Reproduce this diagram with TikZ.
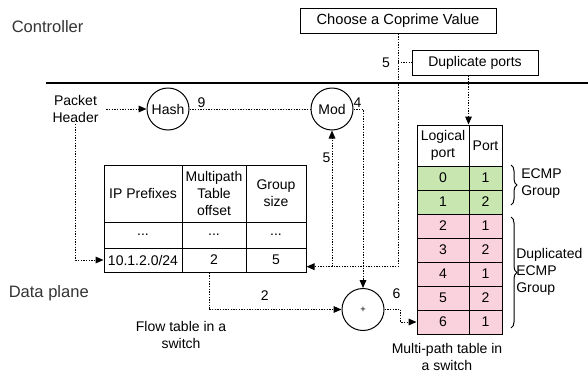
\documentclass[tikz,border=0pt]{standalone}
\usepackage{fontspec}
\setmainfont{Liberation Sans}
\usetikzlibrary{arrows.meta,decorations.pathreplacing}

\begin{document}
\begin{tikzpicture}[x=0.75pt,y=0.75pt,yscale=-1,xscale=1,
  txt/.style={inner sep=0.75pt,font=\fontsize{10.5}{12.75}\selectfont,align=center},
  cell/.style={draw,line width=0.75pt,inner sep=0pt,font=\fontsize{10.5}{12.75}\selectfont,align=center},
  bub/.style={draw,circle,line width=0.75pt,minimum size=31.5pt,inner sep=0pt,font=\fontsize{10.5}{12.75}\selectfont},
  dotline/.style={line width=0.75pt,dash pattern={on 1pt off 1pt}},
  tip/.style={-{Triangle[length=6pt,width=5pt]}},
  curly/.style={line width=0.75pt,decorate,decoration={brace,amplitude=4.5pt}}]
\useasboundingbox (0,0) rectangle (588,375);

% Planes
\draw (10.5,27) node [anchor=west][inner sep=0.75pt] [font=\fontsize{12.4}{15}\selectfont,color={rgb, 255:red, 51; green, 51; blue, 51 }] (ctl) {Controller};
\draw (7.5,293.5) node [anchor=west][inner sep=0.75pt] [font=\fontsize{12.4}{15}\selectfont,color={rgb, 255:red, 51; green, 51; blue, 51 }] (dpl) {Data plane};
\draw [line width=1.5pt] (46,83) -- (588,83) ;

% Controller boxes
\draw (398,20.8) node [draw,line width=0.75pt,minimum width=147pt,minimum height=18.75pt,inner sep=0pt] [font=\fontsize{11}{13}\selectfont] (choose) {Choose a Coprime Value};
\draw (475,62.5) node [draw,line width=0.75pt,minimum width=94.5pt,minimum height=18.75pt,inner sep=0pt] [font=\fontsize{10.5}{12.75}\selectfont] (dup) {Duplicate ports};

% Text Node
\draw (75.5,109) node [txt] (hdr) {Packet\\Header};
% Circles
\draw (168,109) node [bub] (hash) {Hash};
\draw (332,109) node [bub] (mod) {Mod};
\draw (363,309.5) node [bub,font=\fontsize{7}{8}\selectfont] (plus) {+};

% Flow table
\draw (143,193.5) node [cell,minimum width=58.5pt,minimum height=42.75pt] (iph) {IP Prefixes};
\draw (214,193.5) node [cell,minimum width=48pt,minimum height=42.75pt] (ofh) {Multipath\\Table\\offset};
\draw (276,193.5) node [cell,minimum width=45pt,minimum height=42.75pt] (gsh) {Group\\size};
\draw (143,235) node [cell,minimum width=58.5pt,minimum height=19.5pt] (ipd) {...};
\draw (214,235) node [cell,minimum width=48pt,minimum height=19.5pt] (ofd) {...};
\draw (276,235) node [cell,minimum width=45pt,minimum height=19.5pt] (gsd) {...};
\draw (143,260) node [cell,minimum width=58.5pt,minimum height=18pt] (ipv) {10.1.2.0/24};
\draw (214,260) node [cell,minimum width=48pt,minimum height=18pt] (ofv) {2};
\draw (276,260) node [cell,minimum width=45pt,minimum height=18pt] (gsv) {5};
\draw (181,335) node [txt] (flowcap) {Flow table in a\\switch};

% Multi-path table
\draw (443,145.5) node [cell,minimum width=39pt,minimum height=30.75pt] (hlp) {Logical\\port};
\draw (485.5,145.5) node [cell,minimum width=24.75pt,minimum height=30.75pt] (hpt) {Port};
\draw (443,178) node [cell,minimum width=39pt,minimum height=18pt,fill={rgb, 255:red, 199; green, 230; blue, 176 }] (r0l) {0};
\draw (485.5,178) node [cell,minimum width=24.75pt,minimum height=18pt,fill={rgb, 255:red, 199; green, 230; blue, 176 }] (r0p) {1};
\draw (443,202) node [cell,minimum width=39pt,minimum height=18pt,fill={rgb, 255:red, 199; green, 230; blue, 176 }] (r1l) {1};
\draw (485.5,202) node [cell,minimum width=24.75pt,minimum height=18pt,fill={rgb, 255:red, 199; green, 230; blue, 176 }] (r1p) {2};
\draw (443,226) node [cell,minimum width=39pt,minimum height=18pt,fill={rgb, 255:red, 250; green, 210; blue, 222 }] (r2l) {2};
\draw (485.5,226) node [cell,minimum width=24.75pt,minimum height=18pt,fill={rgb, 255:red, 250; green, 210; blue, 222 }] (r2p) {1};
\draw (443,250) node [cell,minimum width=39pt,minimum height=18pt,fill={rgb, 255:red, 250; green, 210; blue, 222 }] (r3l) {3};
\draw (485.5,250) node [cell,minimum width=24.75pt,minimum height=18pt,fill={rgb, 255:red, 250; green, 210; blue, 222 }] (r3p) {2};
\draw (443,274) node [cell,minimum width=39pt,minimum height=18pt,fill={rgb, 255:red, 250; green, 210; blue, 222 }] (r4l) {4};
\draw (485.5,274) node [cell,minimum width=24.75pt,minimum height=18pt,fill={rgb, 255:red, 250; green, 210; blue, 222 }] (r4p) {1};
\draw (443,298) node [cell,minimum width=39pt,minimum height=18pt,fill={rgb, 255:red, 250; green, 210; blue, 222 }] (r5l) {5};
\draw (485.5,298) node [cell,minimum width=24.75pt,minimum height=18pt,fill={rgb, 255:red, 250; green, 210; blue, 222 }] (r5p) {2};
\draw (443,322) node [cell,minimum width=39pt,minimum height=18pt,fill={rgb, 255:red, 250; green, 210; blue, 222 }] (r6l) {6};
\draw (485.5,322) node [cell,minimum width=24.75pt,minimum height=18pt,fill={rgb, 255:red, 250; green, 210; blue, 222 }] (r6p) {1};
\draw (447,356.5) node [txt] (mpcap) {Multi-path table in\\a switch};

% Braces
\draw [curly] (511,165) -- (511,205) ;
\draw (520,183.5) node [txt,anchor=west,align=left] (ecmp) {ECMP\\Group};
\draw [curly] (511,217) -- (511,328) ;
\draw (515,272) node [txt,anchor=west,align=left] (decmp) {Duplicated\\ECMP\\Group};

% Connectors
\coordinate (gin) at ([yshift=5pt]gsv.east);
\draw [dotline,tip] (hdr.east) [shorten <=5pt] -- (hash.west) ;
\draw [dotline,tip] (hdr.south) |- (ipv.west) ;
\draw [dotline] (hash.east) -- node [pos=0.1,above,txt] {9} (mod.west) ;
\draw [dotline,tip] (mod.east) -| node [pos=0.5,anchor=south east,txt] {4} (plus.north) ;
\draw [dotline,tip] (choose.south) |- (gin) ;
\draw [dotline,tip] (mod.south |- gin) -- node [pos=0.8,left,txt] {5} (mod.south) ;
\draw [dotline] (choose.south |- dup.west) node [left,xshift=-5pt,txt] {5} -- (dup.west) ;
\draw [dotline,tip] (dup.south -| hpt.north west) -- (hpt.north west) ;
\draw [dotline,tip] ([xshift=-3.75pt]ofv.south) |- node [pos=0.71,above=6pt,txt] {2} (plus.west) ;
\draw [dotline,tip] (plus.east) -- ++(16,0) node [anchor=south,xshift=-3pt,yshift=7pt,txt] {6} |- (r6l.west) ;
\end{tikzpicture}
\end{document}
